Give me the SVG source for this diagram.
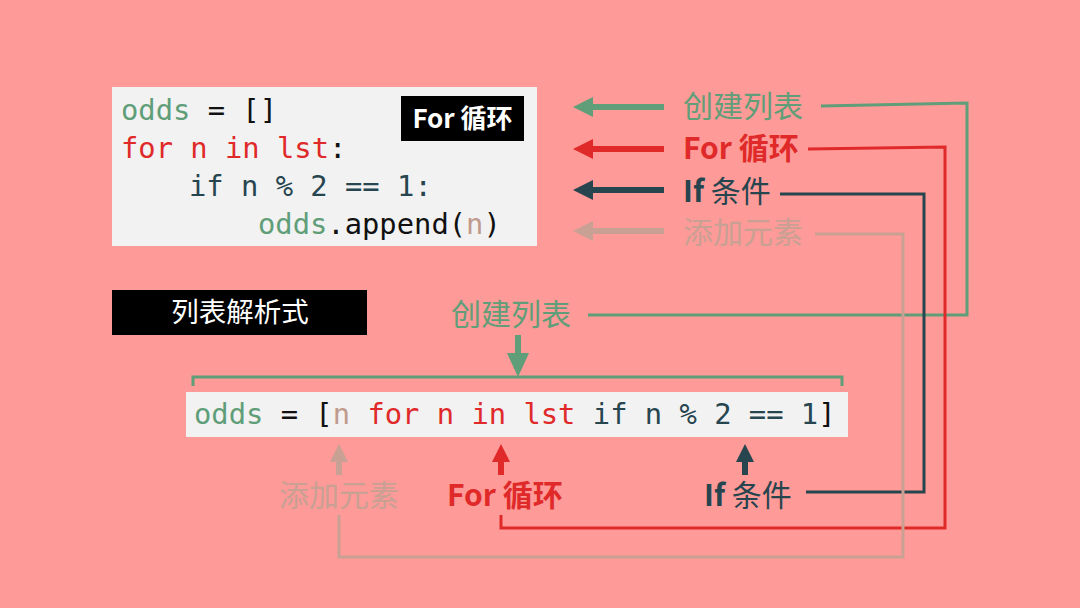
<svg xmlns="http://www.w3.org/2000/svg" width="1080" height="608" viewBox="0 0 1080 608">
<style>
.code{font-family:"DejaVu Sans Mono","Liberation Mono",monospace;font-size:28.8px}
.lbl{font-family:"Noto Sans CJK SC","Noto Sans",sans-serif;font-size:30px}
.b{font-weight:bold}
.g{fill:#5f9e78}.r{fill:#e02a2a}.d{fill:#27454f}.t{fill:#c8a094}.k{fill:#111}.br{fill:#c09a8c}
.ln{fill:none;stroke-width:3}
</style>
<rect width="1080" height="608" fill="#fe9a97"/>

<g id="code-loop">
<rect x="112" y="87" width="425" height="159" fill="#f2f2f2"/>
<text class="code" x="121" y="120" xml:space="preserve"><tspan class="g">odds</tspan><tspan class="k"> = []</tspan></text>
<text class="code" x="121" y="158" xml:space="preserve"><tspan class="r">for n in lst</tspan><tspan class="k">:</tspan></text>
<text class="code d" x="189" y="196" xml:space="preserve">if n % 2 == 1:</text>
<text class="code" x="258" y="234" xml:space="preserve"><tspan class="g">odds</tspan><tspan class="k">.append(</tspan><tspan class="br">n</tspan><tspan class="k">)</tspan></text>
</g>

<g id="tag-for">
<rect x="401" y="96" width="123" height="45" fill="#000"/>
<text class="lbl b" x="462.5" y="127.5" text-anchor="middle" fill="#fff" style="font-size:26px">For 循环</text>
</g>

<g id="tag-lc">
<rect x="112" y="290" width="255" height="45" fill="#000"/>
<text class="lbl" x="240" y="322" text-anchor="middle" fill="#fff" style="font-size:27.5px">列表解析式</text>
</g>

<g id="legend-create">
<path d="M664,107 H590" stroke="#5f9e78" stroke-width="6"/>
<path d="M573,107 L593,97 L593,117 Z" fill="#5f9e78"/>
<text class="lbl g" x="683" y="117">创建列表</text>
</g>
<g id="legend-for">
<path d="M664,149 H590" stroke="#e02a2a" stroke-width="6"/>
<path d="M573,149 L593,139 L593,159 Z" fill="#e02a2a"/>
<text class="lbl b r" x="683" y="159">For 循环</text>
</g>
<g id="legend-if">
<path d="M664,190 H590" stroke="#27454f" stroke-width="6"/>
<path d="M573,190 L593,180 L593,200 Z" fill="#27454f"/>
<text class="lbl d" x="683" y="202"><tspan class="b">If</tspan> 条件</text>
</g>
<g id="legend-add">
<path d="M664,231 H590" stroke="#c8a094" stroke-width="6"/>
<path d="M573,231 L593,221 L593,241 Z" fill="#c8a094"/>
<text class="lbl t" x="683" y="243">添加元素</text>
</g>

<g id="create-label">
<text class="lbl g" x="451" y="325">创建列表</text>
<path d="M518,335 V356" stroke="#5f9e78" stroke-width="6"/>
<path d="M507,353 L529,353 L518,377 Z" fill="#5f9e78"/>
</g>

<g id="code-lc">
<path d="M193,386 V377 H842 V386" fill="none" stroke="#5f9e78" stroke-width="3"/>
<rect x="186" y="392" width="662" height="45" fill="#f2f2f2"/>
<text class="code" x="194" y="424" xml:space="preserve"><tspan class="g">odds</tspan><tspan class="k"> = [</tspan><tspan class="br">n</tspan><tspan class="r"> for n in lst</tspan><tspan class="d"> if n % 2 == 1</tspan><tspan class="k">]</tspan></text>
</g>

<g id="bottom-add">
<path d="M339,475 V458" stroke="#c8a094" stroke-width="6"/>
<path d="M330,462 L348,462 L339,444 Z" fill="#c8a094"/>
<text class="lbl t" x="279" y="506">添加元素</text>
</g>
<g id="bottom-for">
<path d="M501,475 V458" stroke="#e02a2a" stroke-width="6"/>
<path d="M492,462 L510,462 L501,444 Z" fill="#e02a2a"/>
<text class="lbl b r" x="447" y="506">For 循环</text>
</g>
<g id="bottom-if">
<path d="M745,475 V458" stroke="#27454f" stroke-width="6"/>
<path d="M736,462 L754,462 L745,444 Z" fill="#27454f"/>
<text class="lbl d" x="704" y="506"><tspan class="b">If</tspan> 条件</text>
</g>

<g id="connectors">
<path class="ln" d="M821,106 L967,103 V315 H588" stroke="#5f9e78"/>
<path class="ln" d="M808,149 L945,147 V528 H501 V515" stroke="#e02a2a"/>
<path class="ln" d="M780,194 H924 V492 H806" stroke="#27454f"/>
<path class="ln" d="M815,234 H903 V557 H339 V515" stroke="#c8a094"/>
</g>
</svg>
